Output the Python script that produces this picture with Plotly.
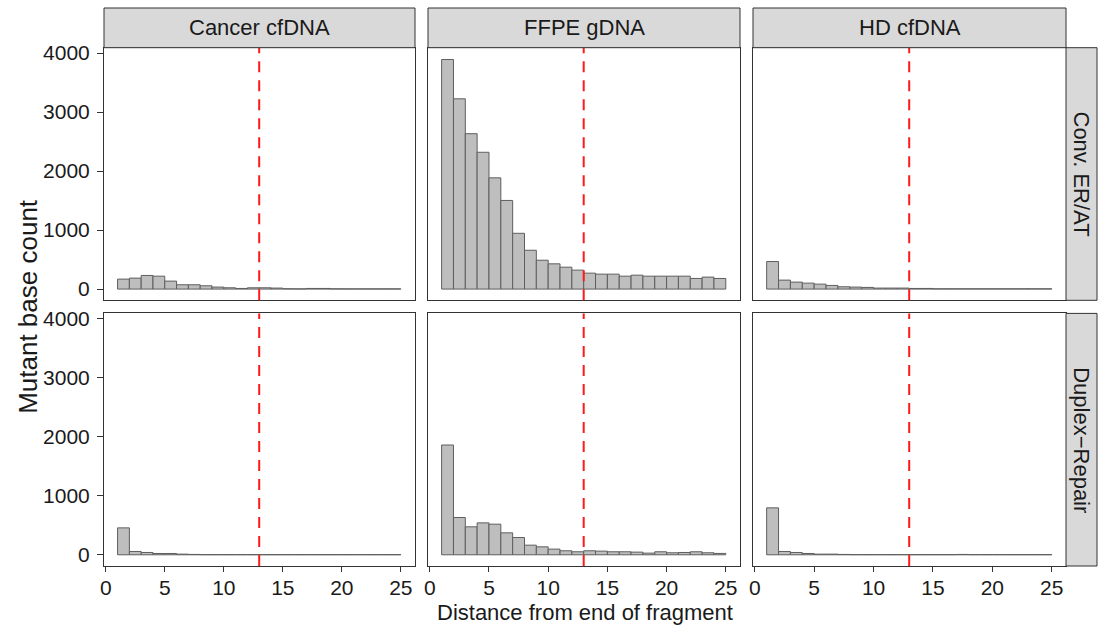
import plotly.graph_objects as go

# ---------------- data ----------------
distance = list(range(1, 25))
samples = ["Cancer cfDNA", "FFPE gDNA", "HD cfDNA"]
methods = ["Conv. ER/AT", "Duplex\u2212Repair"]

conv_cancer = [169, 186, 231, 219, 135, 73, 73, 56, 34, 22, 11, 22, 22, 17, 6, 4, 11, 11, 5, 4, 4, 4, 4, 4]
conv_ffpe = [3890, 3224, 2633, 2318, 1885, 1502, 945, 658, 489, 428, 371, 321,
             270, 253, 253, 219, 236, 219, 219, 219, 219, 180, 203, 180]
conv_hd = [467, 152, 118, 101, 84, 62, 39, 34, 28, 17, 17, 17, 11, 11, 5, 5, 5, 5, 5, 5, 5, 5, 5, 5]

dup_cancer = [456, 56, 39, 22, 22, 11, 6, 3, 3, 3, 3, 3, 3, 3, 3, 3, 3, 3, 3, 3, 3, 3, 3, 3]
dup_ffpe = [1860, 632, 474, 541, 519, 372, 293, 163, 135, 96, 68, 51,
            68, 62, 51, 51, 45, 28, 51, 34, 39, 51, 34, 23]
dup_hd = [795, 56, 39, 22, 11, 11, 6, 3, 3, 3, 3, 3, 3, 3, 3, 3, 6, 3, 3, 3, 3, 3, 3, 3]

cutoff = 13
x_ticks = [0, 5, 10, 15, 20, 25]
y_ticks = [0, 1000, 2000, 3000, 4000]

counts = {
    (0, 0): conv_cancer, (0, 1): conv_ffpe, (0, 2): conv_hd,
    (1, 0): dup_cancer, (1, 1): dup_ffpe, (1, 2): dup_hd,
}

# ---------------- layout geometry ----------------
W, H = 1098, 627
col_px = [(104, 415), (428, 740), (753, 1066)]
row_px = [(47.7, 300.3), (313.4, 566.0)]
strip_top = 8.0
strip_right = (1066, 1097)

FONT = "Liberation Sans, Arial, Helvetica, sans-serif"
BORDER = "#333333"
TEXT = "#1a1a1a"


def px_x(v):
    return v / W


def px_y(v):
    return 1 - v / H


fig = go.Figure()
layout = dict(
    width=W, height=H,
    margin=dict(l=0, r=0, t=0, b=0, autoexpand=False),
    paper_bgcolor="white", plot_bgcolor="white",
    showlegend=False,
    font=dict(family=FONT, color=TEXT),
)
shapes = []
annotations = []

for r in range(2):
    for c in range(3):
        k = r * 3 + c + 1
        sfx = "" if k == 1 else str(k)
        fig.add_trace(go.Bar(
            x=distance, y=counts[(r, c)], width=1, offset=0,
            marker=dict(color="#BEBEBE", line=dict(color="#5e5e5e", width=1)),
            xaxis="x" + sfx, yaxis="y" + sfx, showlegend=False,
            hovertemplate="%{x}: %{y}<extra></extra>",
        ))
        x0, x1 = col_px[c]
        y0, y1 = row_px[r]
        layout["xaxis" + sfx] = dict(
            domain=[px_x(x0), px_x(x1)], anchor="y" + sfx,
            range=[-0.15, 26.2], showgrid=False, zeroline=False,
            showline=True, linecolor=BORDER, linewidth=1, mirror=True,
            tickvals=x_ticks, ticks="outside" if r == 1 else "",
            ticklen=5, tickwidth=1, tickcolor=BORDER, automargin=False,
            ticklabelstandoff=-2,
            showticklabels=(r == 1), tickfont=dict(size=21, color=TEXT, family=FONT),
        )
        layout["yaxis" + sfx] = dict(
            domain=[px_y(y1), px_y(y0)], anchor="x" + sfx,
            range=[-190, 4090], showgrid=False, zeroline=False,
            showline=True, linecolor=BORDER, linewidth=1, mirror=True,
            tickvals=y_ticks, ticks="outside" if c == 0 else "",
            ticklen=6, tickwidth=1, tickcolor=BORDER, automargin=False,
            ticklabelstandoff=3,
            showticklabels=(c == 0), tickfont=dict(size=21, color=TEXT, family=FONT),
        )
        shapes.append(dict(
            type="line", xref="x" + sfx, yref="y" + sfx + " domain",
            x0=cutoff, x1=cutoff, y0=0, y1=1,
            line=dict(color="#FF1A1A", width=2, dash="11px,8px"),
        ))

# top strips (samples)
for c, name in enumerate(samples):
    x0, x1 = col_px[c]
    shapes.append(dict(
        type="rect", xref="paper", yref="paper",
        x0=px_x(x0), x1=px_x(x1), y0=px_y(row_px[0][0]), y1=px_y(strip_top),
        fillcolor="#D9D9D9", line=dict(color=BORDER, width=1),
    ))
    annotations.append(dict(
        text=name, xref="paper", yref="paper",
        x=px_x((x0 + x1) / 2), y=px_y((strip_top + row_px[0][0]) / 2),
        xanchor="center", yanchor="middle", showarrow=False,
        font=dict(size=22, color=TEXT, family=FONT),
    ))

# right strips (methods)
for r, name in enumerate(methods):
    y0, y1 = row_px[r]
    shapes.append(dict(
        type="rect", xref="paper", yref="paper",
        x0=px_x(strip_right[0]), x1=px_x(strip_right[1]), y0=px_y(y1), y1=px_y(y0),
        fillcolor="#D9D9D9", line=dict(color=BORDER, width=1),
    ))
    annotations.append(dict(
        text=name, xref="paper", yref="paper",
        x=px_x((strip_right[0] + strip_right[1]) / 2), y=px_y((y0 + y1) / 2),
        xanchor="center", yanchor="middle", showarrow=False, textangle=90,
        font=dict(size=22, color=TEXT, family=FONT),
    ))

# axis titles
annotations.append(dict(
    text="Distance from end of fragment", xref="paper", yref="paper",
    x=px_x((col_px[0][0] + col_px[2][1]) / 2), y=px_y(612),
    xanchor="center", yanchor="middle", showarrow=False,
    font=dict(size=22, color=TEXT, family=FONT),
))
annotations.append(dict(
    text="Mutant base count", xref="paper", yref="paper",
    x=px_x(28), y=px_y((row_px[0][0] + row_px[1][1]) / 2),
    xanchor="center", yanchor="middle", showarrow=False, textangle=-90,
    font=dict(size=26, color=TEXT, family=FONT),
))

layout["shapes"] = shapes
layout["annotations"] = annotations
fig.update_layout(**layout)
fig.write_html("out.html")
